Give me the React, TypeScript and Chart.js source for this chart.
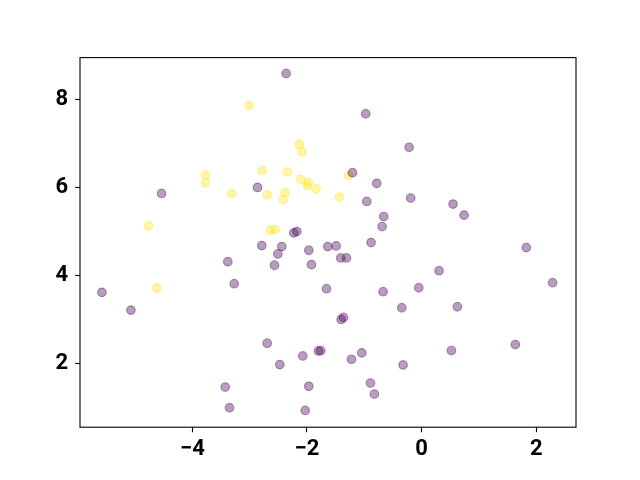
import React, { useEffect, useRef } from "react";
import { Chart, registerables } from "chart.js";

Chart.register(...registerables);

const yellowX = [-3.008, -2.136, -2.09, -2.781, -2.34, -3.77, -3.77, -2.108, -1.979, -1.991, -1.84, -3.316, -2.694, -2.38, -2.41, -4.764, -2.636, -2.555, -1.276, -1.433, -4.619];
const yellowY = [7.87, 6.988, 6.814, 6.395, 6.358, 6.29, 6.107, 6.19, 6.121, 6.046, 5.977, 5.863, 5.84, 5.893, 5.733, 5.133, 5.035, 5.049, 6.274, 5.788, 3.72];

const purpleX = [-2.363, -2.863, -4.537, -2.23, -2.178, -2.788, -2.439, -1.968, -1.637, -0.975, -0.218, -1.207, -0.783, -0.957, -0.19, 0.549, 0.741, -0.661, -0.689, -0.881, -1.491, 1.827, -2.509, -3.381, -2.567, -1.922, -3.27, -1.66, -5.578, -5.072, -2.694, -1.8, -1.76, -2.073, -2.474, -3.426, -1.968, -3.351, -2.031, -1.411, -1.311, 0.305, 2.286, -0.672, -0.05, -0.346, 0.624, -1.404, -1.364, -1.224, -1.044, 0.52, 1.636, -0.323, -0.893, -0.823];
const purpleY = [8.597, 6.007, 5.87, 4.974, 5.003, 4.684, 4.661, 4.578, 4.661, 7.681, 6.919, 6.342, 6.098, 5.688, 5.765, 5.628, 5.377, 5.345, 5.117, 4.753, 4.677, 4.639, 4.495, 4.319, 4.237, 4.251, 3.818, 3.704, 3.621, 3.218, 2.465, 2.29, 2.295, 2.176, 1.979, 1.469, 1.485, 0.998, 0.937, 4.404, 4.404, 4.114, 3.841, 3.636, 3.727, 3.271, 3.294, 3.006, 3.051, 2.1, 2.245, 2.298, 2.435, 1.971, 1.56, 1.31];

const xTicks = [-4, -2, 0, 2];
const yTicks = [2, 4, 6, 8];

const X_MIN = -5.96;
const X_MAX = 2.694;
const Y_MIN = 0.556;
const Y_MAX = 8.958;

const PURPLE = "rgba(68,1,84,0.38)";
const YELLOW = "rgba(253,231,37,0.4)";

const fmt = (v: number) => (v < 0 ? "\u2212" + Math.abs(v) : String(v));

const frame = {
  id: "frame",
  afterDatasetsDraw(chart: any) {
    const { ctx, chartArea } = chart;
    ctx.save();
    ctx.strokeStyle = "#000";
    ctx.lineWidth = 1.1;
    ctx.strokeRect(chartArea.left, chartArea.top, chartArea.right - chartArea.left, chartArea.bottom - chartArea.top);
    ctx.restore();
  },
};

export default function App() {
  const ref = useRef<HTMLCanvasElement>(null);
  useEffect(() => {
    if (!ref.current) return;
    const toPts = (xs: number[], ys: number[]) => xs.map((x, i) => ({ x, y: ys[i] }));
    const chart = new Chart(ref.current, {
      type: "scatter",
      data: {
        datasets: [
          {
            data: toPts(purpleX, purpleY),
            backgroundColor: PURPLE,
            borderColor: PURPLE,
            borderWidth: 1.2,
            pointRadius: 4.3,
          },
          {
            data: toPts(yellowX, yellowY),
            backgroundColor: YELLOW,
            borderColor: YELLOW,
            borderWidth: 1.2,
            pointRadius: 4.3,
          },
        ],
      },
      options: {
        animation: false,
        responsive: false,
        maintainAspectRatio: false,
        layout: { padding: { left: 0, top: 57.6, right: 64, bottom: 0 } },
        plugins: { legend: { display: false }, tooltip: { enabled: false } },
        scales: {
          x: {
            type: "linear",
            min: X_MIN,
            max: X_MAX,
            afterBuildTicks: (s: any) => {
              s.ticks = xTicks.map((v) => ({ value: v }));
            },
            afterFit: (s: any) => {
              s.height = 52.8;
            },
            border: { display: false },
            grid: { drawOnChartArea: false, drawTicks: true, tickLength: 5, color: "#000", tickWidth: 1.1 },
            ticks: {
              color: "#000",
              padding: 4,
              font: { family: "Roboto", size: 22, weight: "bold" },
              callback: (v: any) => fmt(Number(v)),
              maxRotation: 0,
            },
          },
          y: {
            type: "linear",
            min: Y_MIN,
            max: Y_MAX,
            afterBuildTicks: (s: any) => {
              s.ticks = yTicks.map((v) => ({ value: v }));
            },
            afterFit: (s: any) => {
              s.width = 80;
            },
            border: { display: false },
            grid: { drawOnChartArea: false, drawTicks: true, tickLength: 5, color: "#000", tickWidth: 1.1 },
            ticks: {
              color: "#000",
              padding: 7,
              font: { family: "Roboto", size: 22, weight: "bold" },
              callback: (v: any) => fmt(Number(v)),
            },
          },
        },
      },
      plugins: [frame],
    } as any);
    return () => chart.destroy();
  }, []);
  return (
    <div style={{ position: "fixed", left: 0, top: 0, width: 640, height: 480, background: "#fff" }}>
      <canvas ref={ref} width={640} height={480} style={{ width: 640, height: 480 }} />
    </div>
  );
}
